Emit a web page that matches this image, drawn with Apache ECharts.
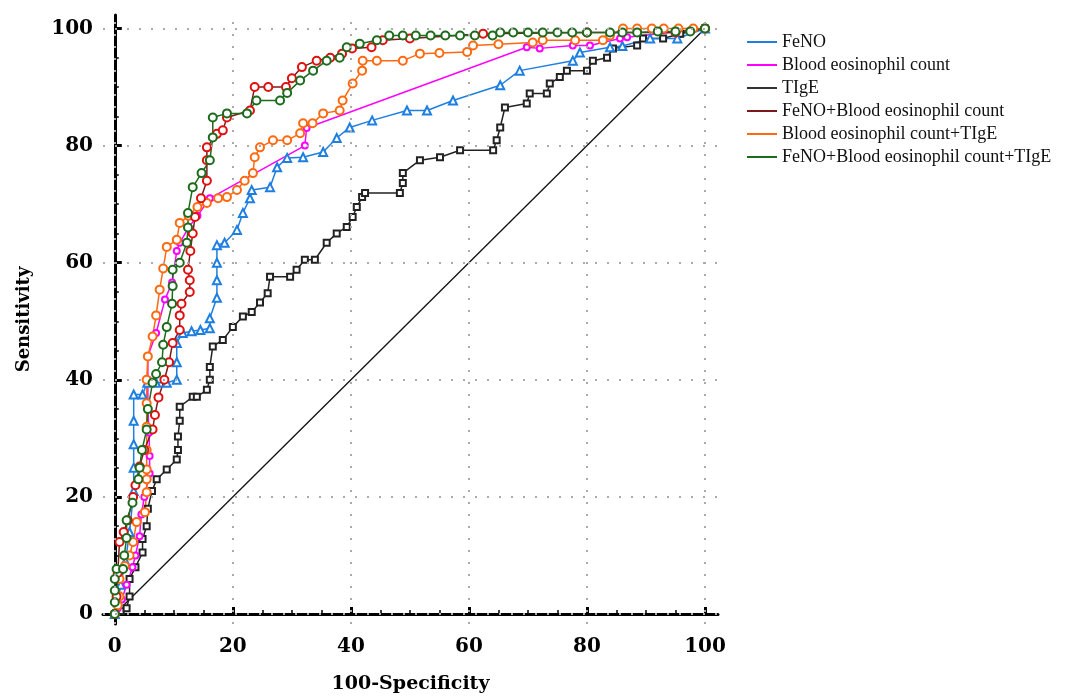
<!DOCTYPE html>
<html>
<head>
<meta charset="utf-8">
<script src="https://cdn.jsdelivr.net/npm/echarts@6/dist/echarts.min.js"></script>
<style>
  html, body { margin: 0; padding: 0; background: #fff; }
  #chart { width: 1066px; height: 699px; }
</style>
</head>
<body>
<div id="chart"></div>
<script>
// 刻度
const xMajor = [0, 20, 40, 60, 80, 100];
const yMajor = [0, 20, 40, 60, 80, 100];
const minorTicks = [5, 10, 15, 25, 30, 35, 45, 50, 55, 65, 70, 75, 85, 90, 95];

const seriesNames = [
  'FeNO',
  'Blood eosinophil count',
  'TIgE',
  'FeNO+Blood eosinophil count',
  'Blood eosinophil count+TIgE',
  'FeNO+Blood eosinophil count+TIgE'
];

// ROC 曲线点 [100-Specificity, Sensitivity]
const fenoPts = [[0,0],[0.5,2],[1,5],[1.8,9],[2.5,14],[3.2,21],[3.2,25],[3.2,29],[3.2,33],[3.2,37.5],[4.7,37.5],[5.5,39.5],[7,39.5],[8.8,39.5],[10.5,40],[10.5,43],[10.5,46.3],[11.5,48],[13,48.3],[14.5,48.5],[16.1,48.8],[16.1,50.5],[17.3,54],[17.3,57],[17.3,60],[17.3,63],[18.6,63.4],[20.7,65.6],[21.7,68.5],[22.9,71],[23.2,72.4],[26.3,72.9],[27.5,76.3],[29.2,77.9],[31.9,78],[35.3,78.9],[37.6,81.3],[39.8,83.1],[43.6,84.3],[49.5,86],[52.9,86],[57.3,87.7],[65.3,90.3],[68.6,92.8],[77.6,94.5],[78.8,95.9],[83.9,96.8],[86,97],[90.7,98.3],[95.3,98.3],[100,100]];

const bloodPts = [[0,0],[0.5,1],[1.2,2.5],[2,5],[3,8],[3.5,10],[4.2,13.3],[4.5,17],[5,20],[5.9,24],[5.9,27],[5.8,31],[5.6,35],[5.6,40],[5.6,44],[7,48],[8.5,53.7],[9.7,56.6],[10.5,62],[11,63.4],[12.5,66],[14,68],[16.1,71],[32.2,80],[32.5,83],[69.8,96.8],[72,96.6],[77.6,97.1],[80.5,97.1],[85.6,98.3],[86.8,98.5],[100,100]];

const tigePts = [[0,0],[1,0.5],[2,1],[2.5,3],[2.5,6],[3.5,8],[4.7,10.5],[4.7,12.8],[5.4,15],[5.6,18],[6.3,21],[7.1,23],[8.8,24.7],[10.5,26.4],[10.7,28],[10.7,30.3],[11,33],[11,35.4],[13.2,37.1],[13.9,37.1],[15.6,38.3],[16.1,40],[16.1,42.2],[16.6,45.7],[18.3,46.8],[20,49],[21.7,50.8],[23.2,51.6],[24.6,53.2],[25.9,54.8],[26.3,57.6],[29.7,57.6],[30.8,58.8],[32.2,60.5],[33.9,60.5],[35.9,63.4],[37.6,65],[39.3,66.1],[40.3,67.8],[41,69.5],[41.9,71.2],[42.4,71.9],[48.3,71.9],[48.8,73.6],[48.8,75.3],[51.7,77.5],[55.1,78],[58.5,79.2],[64.1,79.2],[64.7,80.9],[65.3,83.1],[66.1,86.5],[69.8,87.2],[70.3,88.9],[73.2,88.9],[73.7,90.6],[75.4,91.7],[76.6,92.8],[80,92.8],[81,94.5],[83.4,95],[84.4,96.6],[88.5,97.1],[89.5,98.3],[92.9,98.3],[95.8,99.1],[100,100]];

const fenoBloodPts = [[0,0],[0.3,3],[0.5,7],[0.8,12.3],[1.5,14],[2.2,16],[3.1,20],[3.5,22],[4.2,25.2],[5,28],[6.4,31.5],[6.8,34],[7.4,37],[8.4,40],[9.2,43],[9.8,46.3],[11,48.5],[11,51],[11.3,53],[12.7,55],[12.7,57],[12.4,58.8],[12.8,62],[13.2,65],[13.6,67.8],[14.6,71],[15.6,74],[15.6,77.5],[15.6,79.7],[17.3,82],[18.3,82.6],[19,84.8],[22.9,86],[23.7,90],[26,90],[29,90],[30,91.5],[31.7,93.4],[34.2,94.5],[36.5,95],[38.5,95.7],[40.2,96.6],[43.5,96.8],[45.4,98],[50,98.3],[62.4,99.1],[80,99.3],[95,99.3],[100,100]];

const bloodTigePts = [[0,0],[0.5,1.5],[0.8,3],[0.8,6],[1.7,8.2],[2.5,10],[3.1,12.3],[3.7,15.7],[5.1,17.4],[5.4,20.8],[5.4,23],[5.4,24.7],[5.4,28],[5.4,32],[5.4,36],[5.4,40],[5.6,44],[6.4,47.4],[7,51],[7.6,55.4],[8.2,59],[8.8,62.7],[10.5,63.9],[11,66.8],[12.5,68],[14,69.5],[15.6,70.2],[17.5,71],[19,71.2],[20.7,72.4],[22,74],[23.4,75.3],[23.7,78],[24.6,79.7],[26.8,80.9],[29.2,80.9],[31.4,82.1],[31.9,83.8],[33.5,83.8],[35.3,85.5],[38.1,86],[38.6,87.7],[40.3,90.6],[41.9,92.8],[42,94.5],[44.4,94.5],[48.8,94.5],[51.7,95.7],[55,95.8],[59.7,96],[60.7,97.1],[65,97.3],[70.8,97.6],[72.5,98],[78,98],[82.7,98],[83.9,98.8],[86.1,100],[88.5,100],[91,100],[93,100],[95.5,100],[98,100],[100,100]];

const allPts = [[0,0],[0,2],[0,4],[0,6],[0.3,7.7],[1.4,7.7],[1.6,10],[2,13],[2,16],[3,19],[4,23],[4.2,25],[4.6,28],[5.4,31.5],[5.6,35],[6.4,39.5],[7,41],[8,43],[8.2,46],[8.8,49],[9.7,53],[9.8,56],[9.8,58.8],[11,60],[12.2,63.4],[12.4,66],[12.4,68.5],[13.2,72.9],[14.7,75.3],[16.1,77.5],[16.6,81.4],[16.6,84.8],[19,85.5],[22.4,85.5],[24,87.7],[28,87.7],[29.2,89],[31.4,91.1],[33.6,92.8],[35.9,94.5],[38.1,95],[39.3,96.8],[41.5,97.4],[44.4,98],[46.5,98.8],[48.8,98.8],[51,98.8],[53.5,98.8],[56,98.8],[58.5,98.8],[61,98.8],[64,98.8],[65.3,99.3],[67.5,99.3],[70,99.3],[72.5,99.3],[75,99.3],[77.5,99.3],[80,99.3],[83.9,99.3],[86,99.3],[88.5,99.3],[92,99.5],[95,99.5],[97.5,99.5],[100,100]];

const refLine = [[0,0],[100,100]];

const fontSerif = 'Liberation Serif';
const fontBold = 'DejaVu Serif';

function roc(name, data, color, lineColor, symbol, size) {
  return {
    name, type: 'line', data,
    symbol, symbolSize: size, showSymbol: true,
    lineStyle: { color: lineColor, width: 1.5 },
    itemStyle: { color, borderColor: color, borderWidth: 1.3 },
    emphasis: { disabled: true },
  };
}

const chart = echarts.init(document.getElementById('chart'));

const gridLines = [
  ...xMajor.map(v => ({ xAxis: v })),
  ...yMajor.map(v => ({ yAxis: v })),
];

chart.setOption({
  backgroundColor: '#fff',
  animation: false,
  grid: { left: 103, top: 15, width: 615, height: 610, containLabel: false },
  legend: {
    orient: 'vertical', left: 747, top: 33, padding: 0,
    itemWidth: 30, itemHeight: 2, itemGap: 5, icon: 'rect',
    textStyle: { fontFamily: fontSerif, fontSize: 18, color: '#111', lineHeight: 18 },
    data: [
      { name: seriesNames[0], itemStyle: { color: '#1E7FE0', borderWidth: 0 } },
      { name: seriesNames[1], itemStyle: { color: '#FF00FF', borderWidth: 0 } },
      { name: seriesNames[2], itemStyle: { color: '#333', borderWidth: 0 } },
      { name: seriesNames[3], itemStyle: { color: '#7A1A1A', borderWidth: 0 } },
      { name: seriesNames[4], itemStyle: { color: '#FF6A10', borderWidth: 0 } },
      { name: seriesNames[5], itemStyle: { color: '#1D6B1D', borderWidth: 0 } },
    ],
  },
  xAxis: [
    {
      type: 'value', min: -2, max: 102.2,
      name: '100-Specificity', nameLocation: 'middle', nameGap: 51,
      nameTextStyle: { fontFamily: fontBold, fontWeight: 'bold', fontSize: 19, color: '#000' },
      axisLine: { lineStyle: { color: '#000', width: 3 } },
      axisTick: { inside: true, length: 7, customValues: xMajor, lineStyle: { color: '#000', width: 3 } },
      axisLabel: { customValues: xMajor, margin: 13, fontFamily: fontBold, fontWeight: 'bold', fontSize: 20, color: '#000' },
      splitLine: { show: false },
    },
    {
      type: 'value', min: -2, max: 102.2, position: 'bottom',
      axisLine: { show: false },
      axisTick: { inside: true, length: 4, customValues: minorTicks, lineStyle: { color: '#000', width: 1.5 } },
      axisLabel: { show: false },
      splitLine: { show: false },
    },
  ],
  yAxis: [
    {
      type: 'value', min: -1.7, max: 102.3,
      name: 'Sensitivity', nameLocation: 'middle', nameGap: 70, nameRotate: 90,
      nameTextStyle: { fontFamily: fontBold, fontWeight: 'bold', fontSize: 18, color: '#000' },
      axisLine: { show: true, lineStyle: { color: '#000', width: 3 } },
      axisTick: { show: true, inside: true, length: 7, customValues: yMajor, lineStyle: { color: '#000', width: 3 } },
      axisLabel: { customValues: yMajor, margin: 10, fontFamily: fontBold, fontWeight: 'bold', fontSize: 20, color: '#000' },
      splitLine: { show: false },
    },
    {
      type: 'value', min: -1.7, max: 102.3, position: 'left',
      axisLine: { show: false },
      axisTick: { show: true, inside: true, length: 4, customValues: minorTicks, lineStyle: { color: '#000', width: 1.5 } },
      axisLabel: { show: false },
      splitLine: { show: false },
    },
  ],
  series: [
    {
      name: 'grid', type: 'line', data: [], silent: true,
      markLine: {
        silent: true, symbol: 'none', label: { show: false },
        lineStyle: { color: '#aaa', width: 2, type: [2, 10] },
        data: gridLines,
      },
    },
    {
      name: 'ref', type: 'line', data: refLine, symbol: 'none', silent: true,
      lineStyle: { color: '#111', width: 1.3 },
    },
    roc(seriesNames[2], tigePts, '#222', '#222', 'emptyRect', 6),
    roc(seriesNames[0], fenoPts, '#1E7FE0', '#1E7FE0', 'emptyTriangle', 8),
    roc(seriesNames[1], bloodPts, '#FF00FF', '#FF00FF', 'emptyCircle', 6),
    roc(seriesNames[4], bloodTigePts, '#FF6A10', '#FF6A10', 'emptyCircle', 8),
    roc(seriesNames[3], fenoBloodPts, '#E01010', '#7A1A1A', 'emptyCircle', 8),
    roc(seriesNames[5], allPts, '#1D6B1D', '#1D6B1D', 'emptyCircle', 8),
  ],
});
</script>
</body>
</html>
